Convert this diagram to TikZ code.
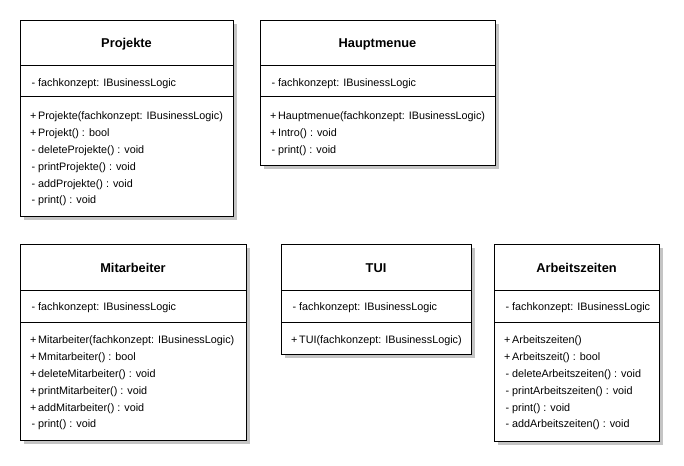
\documentclass[tikz,border=0pt]{standalone}
\usepackage{fontspec}
\setmainfont{Liberation Sans}
\definecolor{shadowgray}{HTML}{C4C4C4}

% visibility markers in a fixed-width column
\newcommand\vpub{\makebox[8pt][l]{+}}
\newcommand\vpriv{\makebox[8pt][l]{\hspace{1.5pt}-}}

% \umlclass{name}{x1}{y1}{x2}{y2}{divider 1}{divider 2}
\newcommand\umlclass[7]{%
  \fill[shadowgray] (#2+4,#3+4) rectangle (#4+4,#5+4);
  \node[classbox, anchor=north west, minimum width={#4-#2}, minimum height={#5-#3}] (#1) at (#2,#3) {};
  \draw[divider] (#1.west |- 0,#6) -- (#1.east |- 0,#6);
  \draw[divider] (#1.west |- 0,#7) -- (#1.east |- 0,#7);
}

\begin{document}
\begin{tikzpicture}[x=1pt,y=-1pt,
  classbox/.style={draw=black, fill=white, line width=1pt, inner sep=0pt},
  divider/.style={draw=black, line width=1pt},
  classname/.style={font=\fontsize{12.8}{14}\selectfont\bfseries, inner sep=0pt},
  member/.style={font=\fontsize{10.8}{13}\selectfont, anchor=west, inner sep=0pt, yshift=-1.5pt}]
\useasboundingbox (0,0) rectangle (684,465);

% ---- Projekte ----
\umlclass{projekte}{20}{20}{233}{216}{66}{97}
\node[classname] (projekte-t) at (126.5,44) {Projekte};
\node[member] (projekte-a1) at (30,82) {\vpriv fachkonzept: IBusinessLogic};
\node[member] (projekte-m1) at (30,115) {\vpub Projekte(fachkonzept: IBusinessLogic)};
\node[member] (projekte-m2) at (30,132) {\vpub Projekt() : bool};
\node[member] (projekte-m3) at (30,149) {\vpriv deleteProjekte() : void};
\node[member] (projekte-m4) at (30,166) {\vpriv printProjekte() : void};
\node[member] (projekte-m5) at (30,183) {\vpriv addProjekte() : void};
\node[member] (projekte-m6) at (30,199) {\vpriv print() : void};

% ---- Hauptmenue ----
\umlclass{hauptmenue}{260}{20}{495}{165}{66}{97}
\node[classname] (hauptmenue-t) at (377.5,44) {Hauptmenue};
\node[member] (hauptmenue-a1) at (270,82) {\vpriv fachkonzept: IBusinessLogic};
\node[member] (hauptmenue-m1) at (270,115) {\vpub Hauptmenue(fachkonzept: IBusinessLogic)};
\node[member] (hauptmenue-m2) at (270,132) {\vpub Intro() : void};
\node[member] (hauptmenue-m3) at (270,149) {\vpriv print() : void};

% ---- Mitarbeiter ----
\umlclass{mitarbeiter}{20}{244}{246}{440}{290}{322}
\node[classname] (mitarbeiter-t) at (133,268) {Mitarbeiter};
\node[member] (mitarbeiter-a1) at (30,306) {\vpriv fachkonzept: IBusinessLogic};
\node[member] (mitarbeiter-m1) at (30,339) {\vpub Mitarbeiter(fachkonzept: IBusinessLogic)};
\node[member] (mitarbeiter-m2) at (30,356) {\vpub Mmitarbeiter() : bool};
\node[member] (mitarbeiter-m3) at (30,373) {\vpub deleteMitarbeiter() : void};
\node[member] (mitarbeiter-m4) at (30,390) {\vpub printMitarbeiter() : void};
\node[member] (mitarbeiter-m5) at (30,407) {\vpub addMitarbeiter() : void};
\node[member] (mitarbeiter-m6) at (30,423) {\vpriv print() : void};

% ---- TUI ----
\umlclass{tui}{281}{244}{471}{354}{290}{322}
\node[classname] (tui-t) at (376,268) {TUI};
\node[member] (tui-a1) at (291,306) {\vpriv fachkonzept: IBusinessLogic};
\node[member] (tui-m1) at (291,339) {\vpub TUI(fachkonzept: IBusinessLogic)};

% ---- Arbeitszeiten ----
\umlclass{arbeitszeiten}{494}{244}{659}{441}{290}{322}
\node[classname] (arbeitszeiten-t) at (576.5,268) {Arbeitszeiten};
\node[member] (arbeitszeiten-a1) at (504,306) {\vpriv fachkonzept: IBusinessLogic};
\node[member] (arbeitszeiten-m1) at (504,339) {\vpub Arbeitszeiten()};
\node[member] (arbeitszeiten-m2) at (504,356) {\vpub Arbeitszeit() : bool};
\node[member] (arbeitszeiten-m3) at (504,373) {\vpriv deleteArbeitszeiten() : void};
\node[member] (arbeitszeiten-m4) at (504,390) {\vpriv printArbeitszeiten() : void};
\node[member] (arbeitszeiten-m5) at (504,407) {\vpriv print() : void};
\node[member] (arbeitszeiten-m6) at (504,423) {\vpriv addArbeitszeiten() : void};
\end{tikzpicture}
\end{document}
